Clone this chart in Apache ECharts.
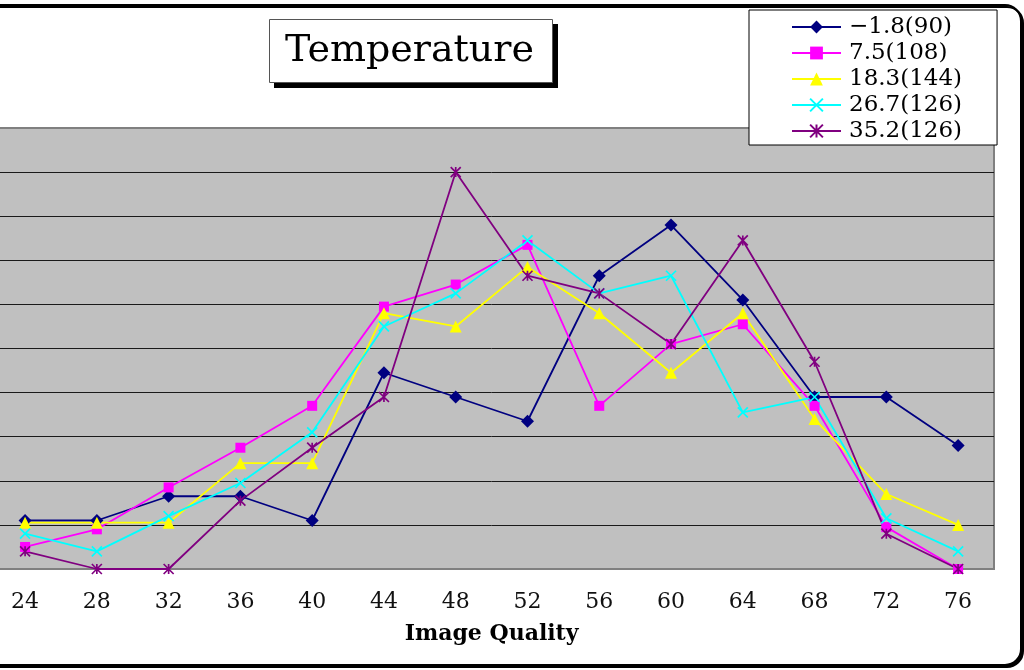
<!DOCTYPE html>
<html>
<head>
<meta charset="utf-8">
<title>Temperature</title>
<script src="https://cdn.jsdelivr.net/npm/echarts@6/dist/echarts.min.js"></script>
<style>
  html, body { margin: 0; padding: 0; background: #fff; overflow: hidden; width: 1024px; height: 670px; }
  /* the chart canvas starts left of the page so the first category column is partly cut off */
  #chart { position: absolute; left: -40px; top: 0; width: 1064px; height: 670px; }
</style>
</head>
<body>
<div id="chart"></div>
<script>
// Image quality score bins (x axis)
const qualityBins = ['24', '28', '32', '36', '40', '44', '48', '52', '56', '60', '64', '68', '72', '76'];

// Share of samples per bin (%), one array per temperature group
const tempMinus1_8 = [2.2, 2.2, 3.3, 3.3, 2.2, 8.9, 7.8, 6.7, 13.3, 15.6, 12.2, 7.8, 7.8, 5.6];
const temp7_5      = [1.0, 1.8, 3.7, 5.5, 7.4, 11.9, 12.9, 14.7, 7.4, 10.2, 11.1, 7.4, 1.9, 0.0];
const temp18_3     = [2.1, 2.1, 2.1, 4.8, 4.8, 11.6, 11.0, 13.7, 11.6, 8.9, 11.6, 6.8, 3.4, 2.0];
const temp26_7     = [1.6, 0.8, 2.4, 3.9, 6.2, 11.0, 12.5, 14.9, 12.5, 13.3, 7.1, 7.8, 2.3, 0.8];
const temp35_2     = [0.8, 0.0, 0.0, 3.1, 5.5, 7.8, 18.0, 13.3, 12.5, 10.2, 14.9, 9.4, 1.6, 0.0];

const seriesNames = ['\u22121.8(90)', '7.5(108)', '18.3(144)', '26.7(126)', '35.2(126)'];

const crossPath = 'path://M0,0L10,10M10,0L0,10';
const starPath = 'path://M0,0L10,10M10,0L0,10M5,0L5,10';

function lineSeries(name, data, color, symbol, size, stroked) {
  return {
    name: name,
    type: 'line',
    data: data,
    symbol: symbol,
    symbolSize: size,
    showAllSymbol: true,
    lineStyle: { color: color, width: 1.8 },
    itemStyle: stroked
      ? { color: 'rgba(0,0,0,0)', borderColor: color, borderWidth: 1.7 }
      : { color: color },
    emphasis: { disabled: true }
  };
}

const chart = echarts.init(document.getElementById('chart'), null, { renderer: 'canvas' });

chart.setOption({
  animation: false,
  backgroundColor: '#fff',
  graphic: [
    {
      // rounded outer frame of the chart area
      type: 'rect',
      z: -10,
      silent: true,
      shape: { x: 0, y: 5, width: 1061, height: 660, r: 16 },
      style: {
        fill: '#fff', stroke: '#000', lineWidth: 2,
        shadowColor: '#000', shadowBlur: 0, shadowOffsetX: 2, shadowOffsetY: 2
      }
    },
    {
      // drop shadow of the title box
      type: 'rect',
      z: 4,
      silent: true,
      shape: { x: 314, y: 24, width: 284, height: 64 },
      style: { fill: '#000' }
    },
    {
      // title box
      type: 'rect',
      z: 5,
      silent: true,
      shape: { x: 309.5, y: 19.5, width: 283, height: 63 },
      style: { fill: '#fff', stroke: '#555', lineWidth: 1 }
    }
  ],
  title: {
    text: 'Temperature',
    left: 309,
    top: 19,
    padding: [11, 15, 11, 16],
    textStyle: {
      fontFamily: 'DejaVu Serif',
      fontSize: 38,
      fontWeight: 'normal',
      color: '#000',
      lineHeight: 42
    }
  },
  legend: {
    orient: 'vertical',
    left: 789,
    top: 10,
    padding: [4, 35, 1, 42],
    itemGap: 0,
    itemWidth: 49,
    itemHeight: 16,
    backgroundColor: '#fff',
    borderColor: '#000',
    borderWidth: 1,
    selectedMode: false,
    textStyle: {
      fontFamily: 'DejaVu Serif',
      fontSize: 23,
      color: '#000',
      lineHeight: 26,
      padding: [0, 0, 0, 3]
    },
    data: seriesNames
  },
  grid: {
    left: 29.2,
    right: 30,
    top: 128,
    bottom: 101,
    show: true,
    backgroundColor: '#c0c0c0',
    borderColor: '#808080',
    borderWidth: 2
  },
  xAxis: {
    type: 'category',
    data: qualityBins,
    boundaryGap: true,
    name: 'Image Quality',
    nameLocation: 'middle',
    nameGap: 54,
    nameTextStyle: {
      fontFamily: 'DejaVu Serif',
      fontWeight: 'bold',
      fontSize: 22,
      color: '#000'
    },
    axisLine: { lineStyle: { color: '#808080', width: 2 } },
    axisTick: { inside: true, length: 8, lineStyle: { color: '#222', width: 1 } },
    axisLabel: {
      margin: 22,
      fontFamily: 'DejaVu Serif',
      fontSize: 22,
      color: '#111'
    },
    splitLine: { show: false }
  },
  yAxis: {
    type: 'value',
    min: 0,
    max: 20,
    interval: 2,
    axisLine: { show: false },
    axisTick: { show: false },
    axisLabel: { show: false },
    splitLine: {
      show: true,
      showMinLine: false,
      showMaxLine: false,
      lineStyle: { color: '#1a1a1a', width: 1 }
    }
  },
  series: [
    lineSeries(seriesNames[0], tempMinus1_8, '#000080', 'diamond', 13, false),
    lineSeries(seriesNames[1], temp7_5, '#ff00ff', 'rect', 10, false),
    lineSeries(seriesNames[2], temp18_3, '#ffff00', 'triangle', 12, false),
    lineSeries(seriesNames[3], temp26_7, '#00ffff', crossPath, 10, true),
    lineSeries(seriesNames[4], temp35_2, '#800080', starPath, 10, true)
  ]
});
</script>
</body>
</html>
